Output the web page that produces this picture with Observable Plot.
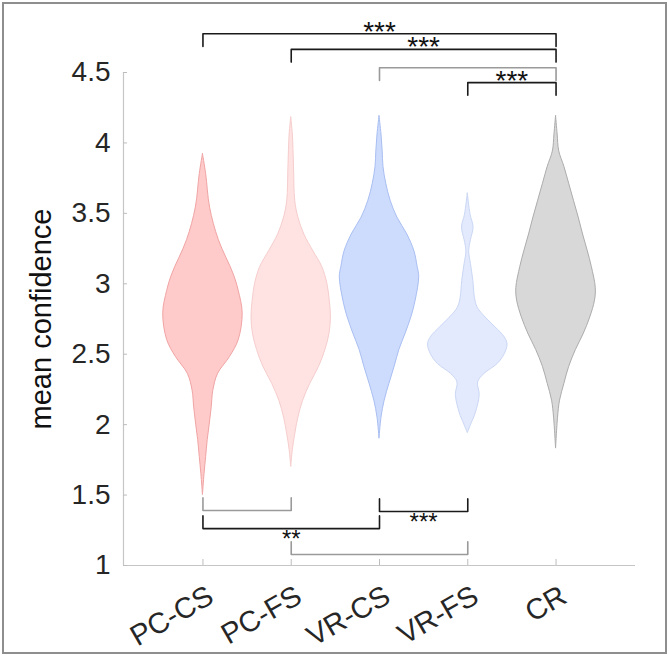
<!DOCTYPE html>
<html>
<head>
<meta charset="utf-8">
<script src="https://cdn.jsdelivr.net/npm/d3@7"></script>
<script src="https://cdn.jsdelivr.net/npm/@observablehq/plot@0.6"></script>
<style>
  body { margin: 0; background: #fff; }
  #fig { position: relative; width: 669px; height: 656px; font-family: "Liberation Sans", Arial, sans-serif; }
  #fig .border { position: absolute; left: 2px; top: 2px; width: 661px; height: 648px; border: 2px solid #8e8e8e; pointer-events: none; }
  #fig svg { position: absolute; left: 0; top: 0; }
</style>
</head>
<body>
<div id="fig"><div class="border"></div></div>
<script>
// Conditions, in axis order
const groups = ["PC-CS", "PC-FS", "VR-CS", "VR-FS", "CR"];
const fills   = ["#ffcaca", "#ffe3e3", "#cddbfd", "#e3eafd", "#d8d8d8"];
const strokes = ["#f0a4a4", "#f6cdcd", "#a9bff2", "#cad7f4", "#acacac"];

// Kernel density profiles: confidence level and relative density (1 = widest point)
const pcCsLevels  = [3.92, 3.78, 3.54, 3.31, 3.07, 2.95, 2.79, 2.60, 2.48, 2.36, 2.24, 2.12, 2.00, 1.89, 1.77, 1.65, 1.50];
const pcCsDensity = [0, 0.08, 0.18, 0.40, 0.77, 0.90, 1.00, 0.90, 0.68, 0.38, 0.26, 0.22, 0.17, 0.12, 0.08, 0.04, 0];

const pcFsLevels  = [4.18, 4.06, 3.83, 3.59, 3.47, 3.35, 3.23, 3.12, 3.00, 2.88, 2.76, 2.64, 2.53, 2.41, 2.29, 2.17, 2.05, 1.93, 1.82, 1.70];
const pcFsDensity = [0, 0.04, 0.07, 0.10, 0.18, 0.33, 0.56, 0.78, 0.91, 0.97, 1.00, 0.96, 0.86, 0.70, 0.48, 0.30, 0.18, 0.10, 0.04, 0];

const vrCsLevels  = [4.19, 4.06, 3.94, 3.83, 3.71, 3.59, 3.47, 3.35, 3.23, 3.12, 3.05, 2.88, 2.76, 2.64, 2.53, 2.41, 2.29, 2.17, 2.05, 1.90];
const vrCsDensity = [0, 0.05, 0.08, 0.10, 0.17, 0.28, 0.45, 0.70, 0.88, 0.96, 1.00, 0.91, 0.80, 0.65, 0.50, 0.38, 0.25, 0.13, 0.05, 0];

const vrFsLevels  = [3.64, 3.49, 3.40, 3.31, 3.23, 3.14, 3.02, 2.90, 2.83, 2.76, 2.69, 2.62, 2.57, 2.50, 2.43, 2.36, 2.30, 2.21, 2.08, 2.01, 1.94];
const vrFsDensity = [0, 0.07, 0.145, 0.08, 0.035, 0.08, 0.14, 0.18, 0.25, 0.45, 0.70, 0.93, 1.00, 0.93, 0.75, 0.42, 0.26, 0.30, 0.20, 0.10, 0];

const crLevels    = [4.19, 4.06, 3.94, 3.83, 3.71, 3.59, 3.47, 3.35, 3.23, 3.12, 2.97, 2.88, 2.76, 2.64, 2.53, 2.41, 2.29, 2.17, 2.05, 1.83];
const crDensity   = [0, 0.04, 0.08, 0.21, 0.33, 0.45, 0.57, 0.68, 0.80, 0.90, 1.00, 0.98, 0.86, 0.69, 0.50, 0.33, 0.21, 0.10, 0.05, 0];

const profiles = [
  [pcCsLevels, pcCsDensity],
  [pcFsLevels, pcFsDensity],
  [vrCsLevels, vrCsDensity],
  [vrFsLevels, vrFsDensity],
  [crLevels, crDensity]
];

// Pairwise comparisons (1-based group positions), bracket level and significance
const compFrom  = [1, 2, 3, 4, 1, 3, 1, 2];
const compTo    = [5, 5, 5, 5, 2, 4, 3, 4];
const compLevel = [4.775, 4.664, 4.534, 4.428, 1.39, 1.383, 1.262, 1.078];
const compStars = ["***", "***", "", "***", "", "***", "**", ""];
const compDark  = [true, true, false, true, false, true, true, false];

const yTicks = [1, 1.5, 2, 2.5, 3, 3.5, 4, 4.5];
const xTicks = [1, 2, 3, 4, 5];

// Half of the widest violin, in category units
const halfWidth = 0.45;
// Length of bracket legs, in confidence units
const leg = 0.09;

const violins = profiles.flatMap(([lv, dn], g) =>
  lv.map((v, i) => ({group: g, pos: g + 1, v, d: dn[i]}))
);

const bracketPts = compFrom.flatMap((a, i) => {
  const b = compTo[i], lvl = compLevel[i];
  const up = lvl > 3; // brackets above the violins hang downwards
  const end = up ? lvl - leg : lvl + leg;
  return [
    {k: i, x: a, y: end}, {k: i, x: a, y: lvl}, {k: i, x: b, y: lvl}, {k: i, x: b, y: end}
  ];
});
const bracketLabels = compFrom.map((a, i) => ({
  x: (a + compTo[i]) / 2, y: compLevel[i], text: compStars[i], above: compLevel[i] > 3
})).filter(d => d.text);

const plot = Plot.plot({
  width: 669,
  height: 656,
  marginLeft: 123,
  marginRight: 34,
  marginTop: 72,
  marginBottom: 91,
  style: {fontFamily: "'Liberation Sans', Arial, sans-serif", background: "transparent", overflow: "visible"},
  x: {domain: [0.1, 5.9], axis: null},
  y: {domain: [1, 4.5], axis: null},
  marks: [
    // axis lines
    Plot.ruleY([1], {stroke: "#c6c6c6", strokeWidth: 1.2}),
    Plot.ruleX([0.1], {y1: 1, y2: 4.5, stroke: "#c6c6c6", strokeWidth: 1.2}),
    // violins
    ...groups.map((name, g) => Plot.areaX(violins.filter(d => d.group === g), {
      y: "v",
      x1: d => d.pos - halfWidth * d.d,
      x2: d => d.pos + halfWidth * d.d,
      fill: fills[g],
      stroke: strokes[g],
      strokeWidth: 1,
      curve: "catmull-rom"
    })),
    // y axis
    Plot.axisY(yTicks, {
      anchor: "left",
      label: null,
      tickSize: -4,
      tickPadding: 17,
      stroke: "#bdbdbd",
      fill: "#262626",
      fontSize: 28,
      tickFormat: d => String(d)
    }),
    Plot.text(["mean confidence"], {
      frameAnchor: "left",
      rotate: -90,
      dx: -82,
      fill: "#111",
      fontSize: 29,
      textAnchor: "middle"
    }),
    // x axis: inward ticks, then rotated category labels
    Plot.axisX(xTicks, {
      anchor: "bottom",
      label: null,
      tickSize: -6,
      stroke: "#bdbdbd",
      fill: "transparent",
      tickFormat: () => ""
    }),
    Plot.axisX(xTicks, {
      anchor: "bottom",
      label: null,
      tickSize: 0,
      tickPadding: 16,
      dx: 8,
      dy: 12,
      stroke: "none",
      fill: "#262626",
      fontSize: 29,
      tickRotate: -30,
      tickFormat: i => groups[i - 1]
    }),
    // significance brackets
    Plot.line(bracketPts.filter(d => !compDark[d.k]), {x: "x", y: "y", z: "k", stroke: "#9a9a9a", strokeWidth: 1.6}),
    Plot.line(bracketPts.filter(d => compDark[d.k]), {x: "x", y: "y", z: "k", stroke: "#1a1a1a", strokeWidth: 1.6}),
    Plot.text(bracketLabels.filter(d => d.above), {x: "x", y: "y", text: "text", dy: 7, fontSize: 28, fill: "#111", lineAnchor: "bottom"}),
    Plot.text(bracketLabels.filter(d => !d.above), {x: "x", y: "y", text: "text", dy: 1, fontSize: 24, fill: "#111", lineAnchor: "top"})
  ]
});
document.getElementById("fig").appendChild(plot);
</script>
</body>
</html>
